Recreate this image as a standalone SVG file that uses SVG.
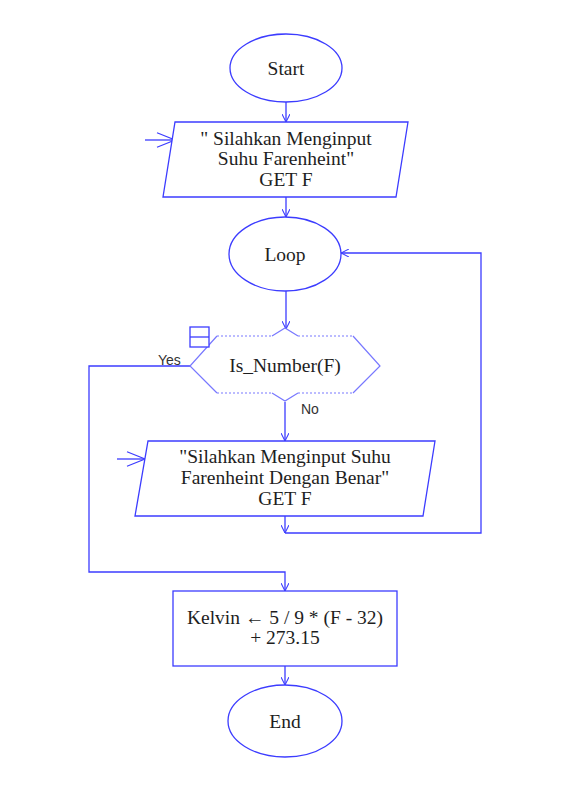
<svg xmlns="http://www.w3.org/2000/svg" width="587" height="810" viewBox="0 0 587 810">
<style>
.sh{fill:#fff;stroke:#3c3cff;stroke-width:1.3}
.ln{fill:none;stroke:#3c3cff;stroke-width:1.3}
.t{font-family:'Liberation Serif','Times New Roman','DejaVu Serif',serif;font-size:19.5px;fill:#1e1e1e;text-anchor:middle}
.lb{font-family:'Liberation Sans',Arial,sans-serif;font-size:14px;fill:#333}
.hx{fill:none;stroke:#7878ff;stroke-width:1.2}
.hxd{fill:none;stroke:#7878ff;stroke-width:1.2;stroke-dasharray:2 2}
</style>
<defs>
<marker id="ah" viewBox="0 0 10 10" refX="10" refY="5" markerWidth="8" markerHeight="8" markerUnits="userSpaceOnUse" orient="auto">
<path d="M0,0 L10,5 L0,10" fill="none" stroke="#3c3cff" stroke-width="1.3"/>
</marker>
<marker id="big" viewBox="0 0 20 20" refX="20" refY="10" markerWidth="20" markerHeight="18" markerUnits="userSpaceOnUse" orient="auto">
<path d="M0,2 L20,10 L0,18" fill="none" stroke="#3c3cff" stroke-width="1.3"/>
</marker>
</defs>
<g id="connectors">
<line class="ln" x1="286" y1="102" x2="286" y2="122" marker-end="url(#ah)"/>
<line class="ln" x1="145" y1="140" x2="175" y2="140" marker-end="url(#big)"/>
<line class="ln" x1="286" y1="197" x2="286" y2="217" marker-end="url(#ah)"/>
<line class="ln" x1="286" y1="291" x2="286" y2="329" marker-end="url(#ah)"/>
<line class="ln" x1="285" y1="402" x2="285" y2="441" marker-end="url(#ah)"/>
<line class="ln" x1="117" y1="459" x2="145" y2="459" marker-end="url(#big)"/>
<line class="ln" x1="285" y1="516" x2="285" y2="533" marker-end="url(#ah)"/>
<polyline class="ln" points="285,533 481,533 481,253 341,253" marker-end="url(#ah)"/>
<polyline class="ln" points="190,366 89,366 89,572 285,572 285,591" marker-end="url(#ah)"/>
<line class="ln" x1="285" y1="666" x2="285" y2="685" marker-end="url(#ah)"/>
<text class="lb" x="158" y="365">Yes</text>
<text class="lb" x="301" y="414">No</text>
</g>
<g id="start">
<ellipse class="sh" cx="286" cy="68" rx="56" ry="34"/>
<text class="t" x="286" y="75" font-family="Liberation Serif, serif">Start</text>
</g>
<g id="input1">
<polygon class="sh" points="175,122 408,122 396,197 163,197"/>
<text class="t" x="286" y="145">" Silahkan Menginput</text>
<text class="t" x="286" y="165">Suhu Farenheint"</text>
<text class="t" x="286" y="186">GET F</text>
</g>
<g id="loop">
<ellipse class="sh" cx="285" cy="254" rx="56" ry="37"/>
<text class="t" x="285" y="261">Loop</text>
</g>
<g id="decision">
<path class="hx" d="M217,336 L190,366 L217,393 M353,336 L380,366 L353,393"/>
<path class="hx" d="M272,336 L285,328 L298,336 M272,393 L285,401 L298,393"/>
<path class="hxd" d="M217,336 L272,336 M298,336 L353,336 M217,393 L272,393 M298,393 L353,393"/>
<rect x="190" y="327" width="19" height="20" fill="#fff" stroke="#3c3cff" stroke-width="1.3"/>
<line x1="190" y1="337" x2="209" y2="337" stroke="#3c3cff" stroke-width="1.3"/>
<text class="t" x="285" y="372">Is_Number(F)</text>
</g>
<g id="input2">
<polygon class="sh" points="148,441 435,441 423,516 135,516"/>
<text class="t" x="285" y="463">"Silahkan Menginput Suhu</text>
<text class="t" x="285" y="484">Farenheint Dengan Benar"</text>
<text class="t" x="285" y="505">GET F</text>
</g>
<g id="kelvin">
<rect class="sh" x="173" y="591" width="224" height="75"/>
<text class="t" x="285" y="624">Kelvin ← 5 / 9 * (F - 32)</text>
<text class="t" x="285" y="644">+ 273.15</text>
</g>
<g id="end">
<ellipse class="sh" cx="285" cy="721" rx="57" ry="36"/>
<text class="t" x="285" y="728">End</text>
</g>
</svg>
